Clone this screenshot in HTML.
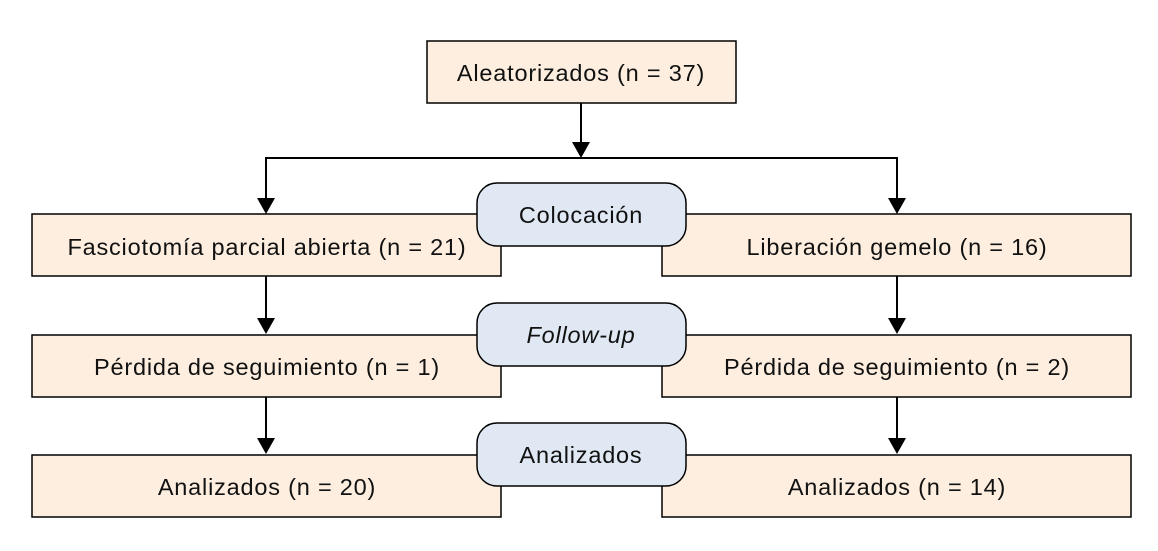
<!DOCTYPE html>
<html><head><meta charset="utf-8"><style>
html,body{margin:0;padding:0;background:#fff;}
svg{display:block;}
text{font-family:"Liberation Sans","DejaVu Sans",sans-serif;font-size:23.5px;letter-spacing:0.8px;fill:#111;}
</style></head><body>
<svg width="1158" height="551" viewBox="0 0 1158 551" xmlns="http://www.w3.org/2000/svg">
<g stroke="#000" stroke-width="2" fill="none">
<line x1="581" y1="103" x2="581" y2="144"/>
<polyline points="266,200 266,158 897,158 897,200"/>
<line x1="266" y1="276" x2="266" y2="320"/>
<line x1="897" y1="276" x2="897" y2="320"/>
<line x1="266" y1="397" x2="266" y2="440"/>
<line x1="897" y1="397" x2="897" y2="440"/>
</g>
<g fill="#000">
<polygon points="572,142 590,142 581,158"/>
<polygon points="257,198 275,198 266,214"/>
<polygon points="888,198 906,198 897,214"/>
<polygon points="257,318 275,318 266,334"/>
<polygon points="888,318 906,318 897,334"/>
<polygon points="257,438 275,438 266,454"/>
<polygon points="888,438 906,438 897,454"/>
</g>
<g fill="#fdeedf" stroke="#000" stroke-width="1.5">
<rect x="427" y="41" width="309" height="62"/>
<rect x="32" y="214" width="469" height="62"/>
<rect x="662" y="214" width="469" height="62"/>
<rect x="32" y="335" width="469" height="62"/>
<rect x="662" y="335" width="469" height="62"/>
<rect x="32" y="455" width="469" height="62"/>
<rect x="662" y="455" width="469" height="62"/>
</g>
<g fill="#dfe8f3" stroke="#000" stroke-width="1.5">
<rect x="477" y="183" width="209" height="63" rx="20"/>
<rect x="477" y="303" width="209" height="63" rx="20"/>
<rect x="477" y="423" width="209" height="63" rx="20"/>
</g>
<g text-anchor="middle">
<text x="581" y="81">Aleatorizados (n = 37)</text>
<text x="267" y="255">Fasciotomía parcial abierta (n = 21)</text>
<text x="897" y="255">Liberación gemelo (n = 16)</text>
<text x="267" y="375">Pérdida de seguimiento (n = 1)</text>
<text x="897" y="375">Pérdida de seguimiento (n = 2)</text>
<text x="267" y="495">Analizados (n = 20)</text>
<text x="897" y="495">Analizados (n = 14)</text>
<text x="581" y="223">Colocación</text>
<text x="581" y="343" font-style="italic">Follow-up</text>
<text x="581" y="463">Analizados</text>
</g>
</svg>
</body></html>
